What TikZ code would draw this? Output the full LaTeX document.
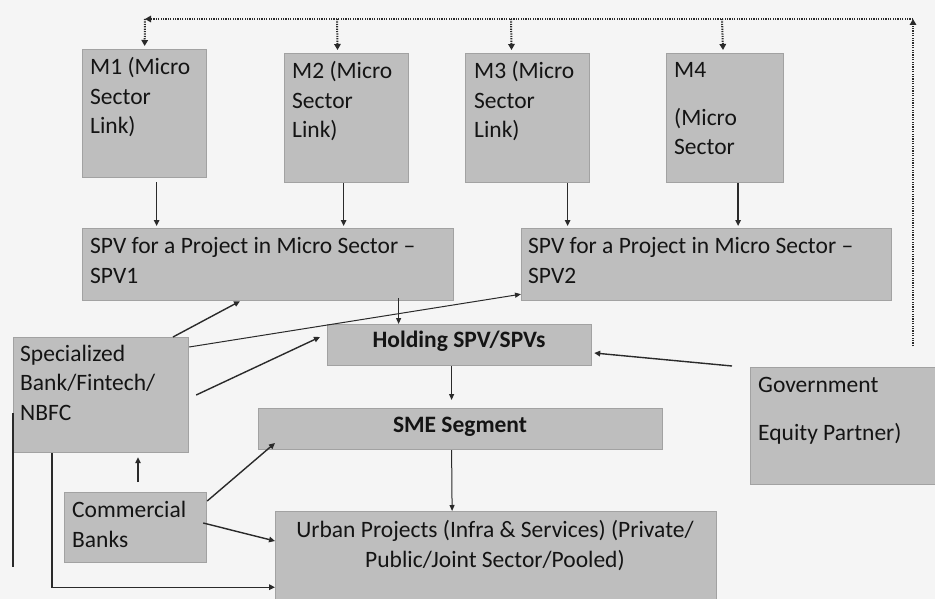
\documentclass[tikz,border=0pt]{standalone}
\usepackage{fontspec}
\setmainfont{Carlito}
\usetikzlibrary{arrows.meta}
\definecolor{bg}{HTML}{F5F5F5}
\definecolor{boxfill}{HTML}{BEBEBE}
\definecolor{boxline}{HTML}{A2A2A2}
\definecolor{ink}{HTML}{141414}
\definecolor{arr}{HTML}{2A2A2A}
\tikzset{
  box/.style={draw=boxline, fill=boxfill, line width=1.2pt, inner sep=0pt, anchor=north west},
  txt/.style={inner sep=0pt, text=ink, font=\fontsize{23.5}{29.5}\selectfont, align=left, anchor=base west},
  ctxt/.style={inner sep=0pt, text=ink, font=\fontsize{23.5}{29.5}\selectfont, align=center, anchor=base},
  conn/.style={draw=arr, line width=1.4pt, -{Triangle[length=6pt,width=5.5pt]}},
  thinconn/.style={draw=arr, line width=1pt, -{Triangle[length=6pt,width=5pt]}},
  plainline/.style={draw=arr, line width=1.6pt},
  dotline/.style={draw=arr, line width=2pt, dash pattern=on 1.2pt off 1.2pt},
  dotarr/.style={dotline, -{Triangle[length=6pt,width=6.5pt]}},
}
\begin{document}
\begin{tikzpicture}[x=1pt,y=-1pt]
\fill[bg] (0,0) rectangle (935,599);
\useasboundingbox (0,0) rectangle (935,599);
% boxes
\node[box, minimum width=124pt, minimum height=128pt] (m1) at (82,49) {};
\node[box, minimum width=124pt, minimum height=129pt] (m2) at (284,53) {};
\node[box, minimum width=124pt, minimum height=129pt] (m3) at (465,53) {};
\node[box, minimum width=117pt, minimum height=129pt] (m4) at (666,53) {};
\node[box, minimum width=371pt, minimum height=72pt] (spv1) at (82,228) {};
\node[box, minimum width=370pt, minimum height=72pt] (spv2) at (521,228) {};
\node[box, minimum width=264pt, minimum height=41pt] (hold) at (327,324) {};
\node[box, minimum width=404pt, minimum height=41pt] (sme) at (258,408) {};
\node[box, minimum width=441pt, minimum height=92pt] (urban) at (275,511) {};
\node[box, minimum width=175pt, minimum height=115pt] (spec) at (13,337) {};
\node[box, minimum width=142pt, minimum height=70pt] (comm) at (64,492) {};
\node[box, minimum width=190pt, minimum height=117pt] (gov) at (750,367) {};
% texts (base anchor = baseline of last line)
\node[txt] (m1t) at (90,134) {M1 (Micro\\Sector\\Link)};
\node[txt] (m2t) at (292,138) {M2 (Micro\\Sector\\Link)};
\node[txt] (m3t) at (474,138) {M3 (Micro\\Sector\\Link)};
\node[txt] (m4a) at (674,78) {M4};
\node[txt] (m4b) at (674,155) {(Micro\\Sector};
\node[txt] (spv1t) at (90,283) {SPV for a Project in Micro Sector –\\SPV1};
\node[txt] (spv2t) at (528,283) {SPV for a Project in Micro Sector –\\SPV2};
\node[ctxt, font=\fontsize{23.5}{29.5}\selectfont\bfseries] (holdt) at (459,347) {Holding SPV/SPVs};
\node[ctxt, font=\fontsize{23.5}{29.5}\selectfont\bfseries] (smet) at (460,432) {SME Segment};
\node[ctxt] (urbant) at (495,567) {Urban Projects (Infra \& Services) (Private/\\Public/Joint Sector/Pooled)};
\node[txt] (spect) at (20,420) {Specialized\\Bank/Fintech/\\NBFC};
\node[txt] (commt) at (72,547) {Commercial\\Banks};
\node[txt] (gova) at (758,392) {Government};
\node[txt] (govb) at (758,440) {Equity Partner)};
% dotted feedback loop
\coordinate (gdot) at (913,346);
\coordinate (ttr) at (913,19);
\coordinate (ttl) at (145,19);
\draw[dotarr] (gdot) -- (ttr);
\draw[dotarr] (ttr) -- (ttl);
\draw[dotarr, shorten >=3pt] (ttl) -- (m1.north);
\draw[dotarr, shorten >=3pt] (ttl -| 337,0) -- ([xshift=-9pt]m2.north);
\draw[dotarr, shorten >=3pt] (ttl -| 511,0) -- ([xshift=-16pt]m3.north);
\draw[dotarr, shorten >=3pt] (ttl -| 722,0) -- ([xshift=-2pt]m4.north);
% M -> SPV
\draw[conn, shorten <=4pt, shorten >=2pt] ([xshift=12pt]m1.south) -- ([xshift=12pt]m1.south |- spv1.north);
\draw[conn, shorten >=2pt] ([xshift=-3pt]m2.south) -- ([xshift=-3pt]m2.south |- spv1.north);
\draw[conn, shorten >=2pt] ([xshift=40pt]m3.south) -- ([xshift=40pt]m3.south |- spv2.north);
\draw[conn, shorten >=2pt] ([xshift=13pt]m4.south) -- ([xshift=13pt]m4.south |- spv2.north);
% SPV1 -> Holding, Holding -> SME, SME -> Urban
\draw[thinconn, shorten <=-3pt] ([xshift=-61pt]hold.north |- spv1.south) -- ([xshift=-61pt]hold.north);
\draw[thinconn, shorten >=8pt] ([xshift=-8pt]hold.south) -- ([xshift=-9pt]sme.north);
\draw[thinconn] ([xshift=-9pt]sme.south) -- ([xshift=-44pt]urban.north);
% Specialized connections
\draw[conn] ([xshift=160pt]spec.north west) -- ([xshift=158pt]spv1.south west);
\draw[thinconn] ([yshift=-10pt]spec.north east) -- ([yshift=7pt]spv2.south west);
\draw[conn] ([xshift=7pt,yshift=-58pt]spec.north east) -- ([xshift=-7pt,yshift=-13pt]hold.north west);
\draw[conn] ([xshift=39pt]spec.south west) |- ([yshift=17pt]urban.south west);
\coordinate (leftend) at (13,567);
\draw[plainline] ([yshift=-76pt]spec.north west) -- (leftend);
% Commercial banks
\draw[conn, shorten <=10pt, shorten >=4pt] ([xshift=74pt]comm.north west) -- ([xshift=125pt]spec.south west);
\draw[conn] ([yshift=-9pt]comm.north east) -- ([xshift=17pt,yshift=-35pt]sme.north west);
\draw[conn] ([xshift=-4pt,yshift=-31pt]comm.north east) -- ([yshift=-30pt]urban.north west);
% Government -> Holding
\draw[conn] ([xshift=-18pt,yshift=1pt]gov.north west) -- ([xshift=2pt,yshift=-29pt]hold.north east);
\end{tikzpicture}
\end{document}
